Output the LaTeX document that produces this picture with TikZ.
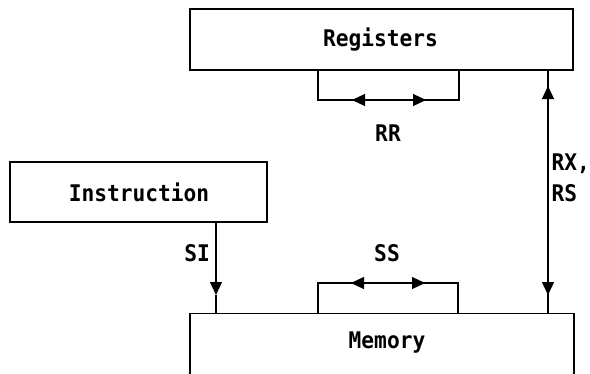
\documentclass[tikz,border=0pt]{standalone}
\usepackage{fontspec}
\setmonofont{DejaVu Sans Mono}[FakeStretch=0.925]
\usetikzlibrary{arrows.meta}

\tikzset{
	unit/.style={draw, line width=1.2bp, inner sep=0pt},
	txt/.style={font=\ttfamily\bfseries\fontsize{23}{31}\selectfont, inner sep=0pt},
	wire/.style={line width=1.2bp},
	dual/.style={line width=1.2bp, {Triangle[length=13bp,width=12bp]}-{Triangle[length=13bp,width=12bp]}},
	single/.style={line width=1.2bp, -{Triangle[length=13bp,width=12bp]}}
}

\begin{document}
\begin{tikzpicture}[x=1bp, y=-1bp]
	\useasboundingbox (0, 0) rectangle (590, 373);
	%boxes
	\node[unit, minimum width=383bp, minimum height=61bp] (registers) at (381.5, 39.5) {};
	\node[unit, minimum width=257bp, minimum height=60bp] (instruction) at (138.5, 192) {};
	\node[unit, minimum width=384bp, minimum height=130bp, anchor=north] (memory) at (382, 313) {};
	\node[txt] (regtext) at (380.5, 40) {Registers};
	\node[txt] (instrtext) at (139, 192) {Instruction};
	\node[txt] (memtext) at (387, 343) {Memory};
	%RR
	\coordinate (rrl) at (318, 100);
	\coordinate (rrr) at (459, 100);
	\coordinate (rra) at (352, 100);
	\coordinate (rrb) at (426, 100);
	\draw[wire] (registers.south -| rrl) |- (rrr) -- (registers.south -| rrr);
	\draw[dual] (rra) -- (rrb);
	\node[txt] (rrtext) at (388, 133) {RR};
	%SS
	\coordinate (ssl) at (318, 283);
	\coordinate (ssr) at (458, 283);
	\coordinate (ssa) at (351, 283);
	\coordinate (ssb) at (425, 283);
	\draw[wire] (memory.north -| ssl) |- (ssr) -- (memory.north -| ssr);
	\draw[dual] (ssa) -- (ssb);
	\node[txt] (sstext) at (387, 253) {SS};
	%RX, RS
	\coordinate (rxup) at (548, 86);
	\coordinate (rxdown) at (548, 295);
	\draw[wire] (registers.south -| rxup) -- (memory.north -| rxup);
	\draw[dual] (rxup) -- (rxdown);
	\node[txt, align=left, anchor=west] (rxtext) at (551.5, 177.5) {RX,\\RS};
	%SI
	\coordinate (sitop) at (216, 222);
	\coordinate (sidown) at (216, 295);
	\draw[wire] (sidown) -- (memory.north -| sidown);
	\draw[single] (instruction.south -| sitop) -- (sidown);
	\node[txt, anchor=east] (sitext) at (210, 253) {SI};
\end{tikzpicture}
\end{document}
